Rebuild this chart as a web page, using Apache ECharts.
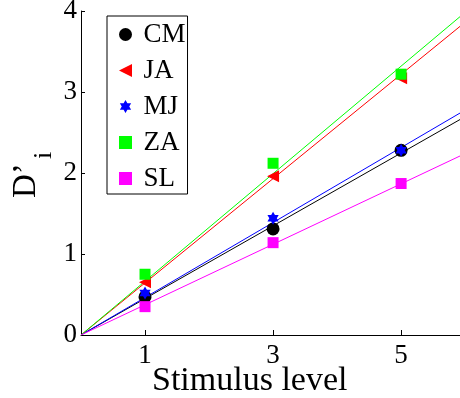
<!DOCTYPE html>
<html><head><meta charset="utf-8">
<script src="https://cdn.jsdelivr.net/npm/echarts@6/dist/echarts.min.js"></script>
<style>html,body{margin:0;padding:0;background:#fff}#c{width:460px;height:398px}</style>
</head><body><div id="c"></div>
<script>
const stimulus = [1, 3, 5];
const subjects = ['CM', 'JA', 'MJ', 'ZA', 'SL'];
const CM = [0.47, 1.31, 2.28];
const JA = [0.65, 1.96, 3.17];
const MJ = [0.52, 1.44, 2.28];
const ZA = [0.75, 2.12, 3.22];
const SL = [0.35, 1.14, 1.87];
const fitX = [0, 5.92];
const fitCM = [0, 2.66];
const fitJA = [0, 3.81];
const fitMJ = [0, 2.74];
const fitZA = [0, 3.93];
const fitSL = [0, 2.21];
const xTicks = [1, 3, 5];
const yTicks = [0, 1, 2, 3, 4];

const values = {CM, JA, MJ, ZA, SL};
const fits = {CM: fitCM, JA: fitJA, MJ: fitMJ, ZA: fitZA, SL: fitSL};
const colors = {CM: '#000000', JA: '#ff0000', MJ: '#0000ff', ZA: '#00ff00', SL: '#ff00ff'};
const SQUARE = 'path://M0,0 L10,0 L10,10 L0,10 Z';
const symbols = {
  CM: 'circle',
  JA: 'path://M0,5 L10,0 L10,10 Z',
  MJ: 'path://M0,-10 L2.887,-5 L8.66,-5 L5.774,0 L8.66,5 L2.887,5 L0,10 L-2.887,5 L-8.66,5 L-5.774,0 L-8.66,-5 L-2.887,-5 Z',
  ZA: SQUARE,
  SL: SQUARE
};
const sizes = {CM: 13, JA: 12, MJ: 13, ZA: 11, SL: 11};
const FONT = 'Liberation Serif';

const series = [];
subjects.forEach(s => {
  series.push({
    name: s + ' fit', type: 'line', silent: true, symbol: 'none',
    data: fitX.map((x, i) => [x, fits[s][i]]),
    lineStyle: {color: colors[s], width: 1}, z: 2
  });
});
subjects.forEach(s => {
  series.push({
    name: s, type: 'scatter', symbol: symbols[s], symbolSize: sizes[s],
    symbolKeepAspect: true,
    data: stimulus.map((x, i) => [x, values[s][i]]),
    itemStyle: {color: colors[s], opacity: 1}, z: 3
  });
});

const chart = echarts.init(document.getElementById('c'));
chart.setOption({
  animation: false,
  backgroundColor: '#fff',
  textStyle: {fontFamily: FONT},
  grid: {left: 81, right: 0, top: 11, bottom: 63, containLabel: false, outerBoundsMode: 'none'},
  xAxis: {
    type: 'value', min: 0, max: 5.92,
    axisLine: {show: true, onZero: false, lineStyle: {color: '#000', width: 1}},
    axisTick: {show: true, inside: true, length: 5, customValues: xTicks, lineStyle: {color: '#000'}},
    axisLabel: {customValues: xTicks, fontSize: 27, fontFamily: FONT, color: '#000', margin: 7},
    splitLine: {show: false}
  },
  yAxis: {
    type: 'value', min: 0, max: 4, interval: 1,
    axisLine: {show: true, onZero: false, lineStyle: {color: '#000', width: 1}},
    axisTick: {show: true, inside: true, length: 4, customValues: yTicks, lineStyle: {color: '#000'}},
    axisLabel: {customValues: yTicks, fontSize: 27, fontFamily: FONT, color: '#000', margin: 4},
    splitLine: {show: false}
  },
  legend: {
    data: subjects,
    orient: 'vertical', left: 107, top: 16,
    padding: [5, 2, 2, 12],
    itemWidth: 26, itemHeight: 13, itemGap: 9,
    borderColor: '#000', borderWidth: 1, backgroundColor: '#fff',
    textStyle: {fontSize: 27, fontFamily: FONT, color: '#000'}
  },
  graphic: [
    {type: 'text', left: 152, top: 364,
     style: {text: 'Stimulus level', font: '34px "Liberation Serif"', fill: '#000'}},
    {type: 'text', x: 26, y: 198, rotation: Math.PI / 2,
     style: {text: 'D’', font: '33px "Liberation Serif"', fill: '#000', textAlign: 'left', textVerticalAlign: 'middle'}},
    {type: 'text', x: 44, y: 159, rotation: Math.PI / 2,
     style: {text: 'i', font: '26px "Liberation Serif"', fill: '#000', textAlign: 'left', textVerticalAlign: 'middle'}}
  ],
  series
});
</script></body></html>
